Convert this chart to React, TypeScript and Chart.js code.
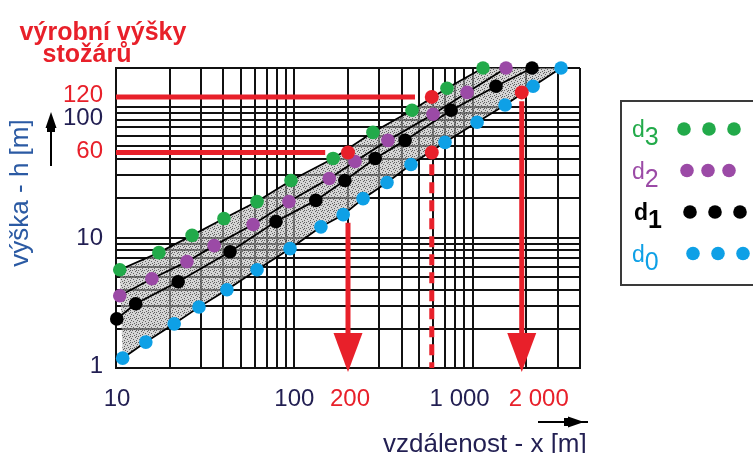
import { useEffect, useRef } from "react";
import { Chart, registerables } from "chart.js";

Chart.register(...registerables);

// ---- axes ----
const xMin = 10;
const xMax = 4000;
const yMin = 1;
const yMax = 200;
const xTickValues = [10, 100, 1000];
const xTickLabels = ["10", "100", "1 000"];
const yTickValues = [1, 10, 100];
const yTickLabels = ["1", "10", "100"];

// ---- series (x = vzdálenost [m], y = výška [m]) ----
const seriesNames = ["d3", "d2", "d1", "d0"];
const d3X = [10.5, 17.4, 26.7, 40.3, 61.8, 95.8, 165, 276, 457, 718, 1143];
const d3Y = [5.67, 7.67, 10.4, 14.0, 18.9, 27.4, 40.5, 64.2, 94.8, 140, 200];
const d2X = [10.5, 15.9, 25.0, 35.5, 58.7, 93.3, 157, 219, 335, 600, 931, 1539];
const d2Y = [3.58, 4.84, 6.54, 8.68, 12.6, 18.9, 28.4, 38.4, 55.7, 88.3, 130, 200];
const d1X = [10.1, 12.9, 22.3, 43.6, 78.9, 132, 192, 284, 418, 757, 1352, 2153];
const d1Y = [2.38, 3.11, 4.59, 7.8, 13.3, 19.3, 27.4, 40.5, 55.7, 94.8, 145, 200];
const d0X = [10.9, 14.7, 21.2, 29.2, 41.9, 61.8, 94.6, 141, 188, 243, 331, 451, 700, 1059, 1520, 2182, 3131];
const d0Y = [1.19, 1.58, 2.18, 2.94, 3.98, 5.67, 8.23, 12.1, 15.0, 19.9, 26.5, 36.4, 53.8, 76.7, 104, 145, 200];

// ---- red annotations (výrobní výšky stožárů) ----
const redLevels = [45, 120];
const redLevelLabels = ["60", "120"];
const redLevelEndX = [149, 475];
const redDotX = [200, 590, 590, 1885];
const redDotY = [45, 45, 120, 130];
const redDropX = [200, 590, 1885];
const redDropFromY = [13, 36.5, 111];
const redDropDashed = [false, true, false];
const redDropLabels = ["200", "", "2 000"];

const GREEN = "#22aa4a";
const PURPLE = "#9b4aa6";
const BLACK = "#000000";
const BLUE = "#0ea0e6";
const RED = "#e8202a";
const NAVY = "#221f52";
const seriesColors = [GREEN, PURPLE, BLACK, BLUE];
const FONT = "'Liberation Sans', Arial, sans-serif";

const toPts = (xs: number[], ys: number[]) => xs.map((x, i) => ({ x, y: ys[i] }));

function logGrid(min: number, max: number) {
  const out: { value: number }[] = [];
  for (let e = Math.floor(Math.log10(min)); Math.pow(10, e) <= max; e++) {
    for (let s = 1; s < 10; s++) {
      const v = s * Math.pow(10, e);
      if (v >= min - 1e-9 && v <= max + 1e-9) out.push({ value: v });
    }
  }
  return out;
}

function makePattern(): CanvasPattern | string {
  const c = document.createElement("canvas");
  c.width = 6;
  c.height = 6;
  const g = c.getContext("2d");
  if (!g) return "rgba(170,170,170,0.6)";
  g.fillStyle = "rgba(185,185,185,0.6)";
  g.fillRect(0, 0, 6, 6);
  g.fillStyle = "rgba(50,50,50,0.7)";
  const specks = [[0, 0], [3, 1], [1, 3], [4, 4], [5, 2], [2, 5], [4, 0]];
  specks.forEach(([a, b]) => g.fillRect(a, b, 1, 1));
  return g.createPattern(c, "repeat") || "rgba(170,170,170,0.6)";
}

const BAND_INDEX = 5;

const overlayPlugin = {
  id: "overlay",
  afterDatasetDraw(chart: any, args: any) {
    if (args.index !== BAND_INDEX) return;
    const ctx: CanvasRenderingContext2D = chart.ctx;
    const xs = chart.scales.x;
    const ys = chart.scales.y;
    const area = chart.chartArea;
    ctx.save();
    ctx.strokeStyle = RED;
    ctx.fillStyle = RED;
    ctx.lineWidth = 5;
    redLevels.forEach((lv, i) => {
      const y = ys.getPixelForValue(lv);
      ctx.beginPath();
      ctx.moveTo(area.left, y);
      ctx.lineTo(xs.getPixelForValue(redLevelEndX[i]), y);
      ctx.stroke();
    });
    redDropX.forEach((xv, i) => {
      const x = xs.getPixelForValue(xv);
      const y0 = ys.getPixelForValue(redDropFromY[i]);
      const yb = area.bottom;
      ctx.lineWidth = 5;
      if (redDropDashed[i]) {
        ctx.setLineDash([11, 7]);
        ctx.beginPath();
        ctx.moveTo(x, y0);
        ctx.lineTo(x, yb);
        ctx.stroke();
        ctx.setLineDash([]);
      } else {
        const headTop = yb - 35;
        ctx.beginPath();
        ctx.moveTo(x, y0);
        ctx.lineTo(x, headTop + 2);
        ctx.stroke();
        ctx.beginPath();
        ctx.moveTo(x - 14.5, headTop);
        ctx.lineTo(x + 14.5, headTop);
        ctx.lineTo(x, yb + 4);
        ctx.closePath();
        ctx.fill();
      }
    });
    ctx.restore();
  },
  afterDraw(chart: any) {
    const ctx: CanvasRenderingContext2D = chart.ctx;
    const xs = chart.scales.x;
    const ys = chart.scales.y;
    ctx.save();
    ctx.textBaseline = "middle";
    ctx.font = `24px ${FONT}`;
    ctx.textAlign = "right";
    const yNudge = [-2, 1, 11];
    yTickValues.forEach((v, i) => {
      ctx.fillStyle = NAVY;
      ctx.fillText(yTickLabels[i], 103, ys.getPixelForValue(v) + yNudge[i]);
    });
    const redYNudge = [-1, -2];
    redLevels.forEach((v, i) => {
      ctx.fillStyle = RED;
      ctx.fillText(redLevelLabels[i], 103, ys.getPixelForValue(v) + redYNudge[i]);
    });
    ctx.textAlign = "center";
    const xNudge = [1, 0, -13];
    xTickValues.forEach((v, i) => {
      ctx.fillStyle = NAVY;
      ctx.fillText(xTickLabels[i], xs.getPixelForValue(v) + xNudge[i], 399);
    });
    const redXNudge = [2, 0, 17];
    redDropX.forEach((v, i) => {
      if (!redDropLabels[i]) return;
      ctx.fillStyle = RED;
      ctx.fillText(redDropLabels[i], xs.getPixelForValue(v) + redXNudge[i], 399);
    });
    // title
    ctx.font = `bold 25px ${FONT}`;
    ctx.fillStyle = RED;
    ctx.textBaseline = "alphabetic";
    ctx.textAlign = "center";
    ctx.fillText("výrobní výšky", 103, 40);
    ctx.fillText("stožárů", 87, 62);
    // y axis title
    ctx.save();
    ctx.translate(21, 193);
    ctx.rotate(-Math.PI / 2);
    ctx.font = `26px ${FONT}`;
    ctx.fillStyle = "#2b5aa3";
    ctx.textBaseline = "middle";
    ctx.fillText("výška - h [m]", 0, 0);
    ctx.restore();
    // up arrow
    ctx.fillStyle = "#000";
    ctx.strokeStyle = "#000";
    ctx.lineWidth = 2;
    ctx.beginPath();
    ctx.moveTo(51, 166);
    ctx.lineTo(51, 125);
    ctx.stroke();
    ctx.beginPath();
    ctx.moveTo(51, 112);
    ctx.lineTo(45.5, 128);
    ctx.lineTo(56.5, 128);
    ctx.closePath();
    ctx.fill();
    ctx.fillRect(47, 127, 8, 5);
    // x axis title
    ctx.font = `26px ${FONT}`;
    ctx.fillStyle = NAVY;
    ctx.textAlign = "left";
    ctx.textBaseline = "alphabetic";
    ctx.fillText("vzdálenost - x [m]", 383, 452);
    // right arrow
    ctx.fillStyle = "#000";
    ctx.strokeStyle = "#000";
    ctx.lineWidth = 2;
    ctx.beginPath();
    ctx.moveTo(538, 422);
    ctx.lineTo(588, 422);
    ctx.stroke();
    ctx.beginPath();
    ctx.moveTo(584, 422);
    ctx.lineTo(568, 416.5);
    ctx.lineTo(568, 427.5);
    ctx.closePath();
    ctx.fill();
    ctx.fillRect(564, 418, 5, 8);
    // legend
    ctx.strokeStyle = "#3a3a3a";
    ctx.lineWidth = 2;
    ctx.strokeRect(621, 101, 150, 184);
    seriesNames.forEach((name, i) => {
      const cy = 129 + i * 41.5;
      const col = seriesColors[i];
      ctx.fillStyle = col;
      ctx.textAlign = "left";
      ctx.textBaseline = "alphabetic";
      ctx.font = `${i === 2 ? "bold " : ""}23px ${FONT}`;
      const tx = 632 + (i === 2 ? 2 : 0);
      ctx.fillText(name.charAt(0), tx, cy + 8);
      const w = ctx.measureText(name.charAt(0)).width;
      ctx.font = `${i === 2 ? "bold " : ""}25px ${FONT}`;
      ctx.fillText(name.slice(1), tx + w, cy + 16);
      const dotStart = 684 + i * 3;
      const dotGap = i === 1 ? 21 : 25;
      for (let k = 0; k < 3; k++) {
        ctx.beginPath();
        ctx.arc(dotStart + k * dotGap, cy, 6.8, 0, Math.PI * 2);
        ctx.fill();
      }
    });
    ctx.restore();
  },
};

export default function App() {
  const ref = useRef<HTMLCanvasElement | null>(null);
  useEffect(() => {
    if (!ref.current) return;
    const bandData = [...toPts(d3X, d3Y), ...toPts(d0X, d0Y).reverse()];
    const series = [toPts(d3X, d3Y), toPts(d2X, d2Y), toPts(d1X, d1Y), toPts(d0X, d0Y)];
    const gridOpts = { color: "#111111", lineWidth: 2, drawTicks: false };
    const chart = new Chart(ref.current, {
      type: "line",
      data: {
        datasets: [
          {
            label: "red",
            data: toPts(redDotX, redDotY),
            showLine: false,
            pointRadius: 7,
            pointBackgroundColor: RED,
            pointBorderWidth: 0,
            clip: false,
          } as any,
          ...series.map((pts, i) => ({
            label: seriesNames[i],
            data: pts,
            borderColor: "#000",
            borderWidth: 1.8,
            pointRadius: 6.8,
            pointBackgroundColor: seriesColors[i],
            pointBorderWidth: 0,
            fill: false,
            tension: 0,
            clip: false,
          })),
          {
            label: "band",
            data: bandData,
            borderWidth: 0,
            pointRadius: 0,
            fill: "shape",
            backgroundColor: makePattern(),
            tension: 0,
          } as any,
        ],
      },
      options: {
        responsive: false,
        animation: false,
        devicePixelRatio: 1,
        layout: { padding: { left: 116, top: 68, right: 173, bottom: 85 } },
        plugins: { legend: { display: false }, tooltip: { enabled: false } },
        events: [],
        scales: {
          x: {
            type: "logarithmic",
            min: xMin,
            max: xMax,
            afterBuildTicks: (s: any) => {
              s.ticks = logGrid(xMin, xMax);
            },
            ticks: { display: false, autoSkip: false },
            grid: gridOpts,
            border: { display: true, color: "#111", width: 2 },
          },
          y: {
            type: "logarithmic",
            min: yMin,
            max: yMax,
            afterBuildTicks: (s: any) => {
              s.ticks = logGrid(yMin, yMax);
            },
            ticks: { display: false, autoSkip: false },
            grid: gridOpts,
            border: { display: true, color: "#111", width: 2 },
          },
        },
      } as any,
      plugins: [overlayPlugin],
    });
    return () => chart.destroy();
  }, []);
  return (
    <div style={{ position: "fixed", left: 0, top: 0, width: 753, height: 453, background: "#fff" }}>
      <canvas ref={ref} width={753} height={453} style={{ display: "block" }} />
    </div>
  );
}
